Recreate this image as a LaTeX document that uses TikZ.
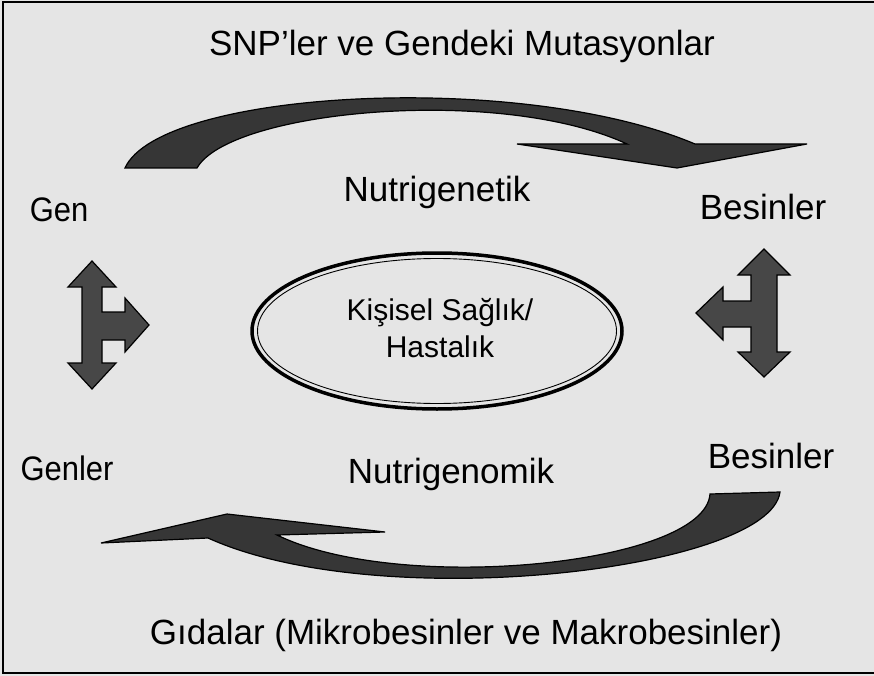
\documentclass[tikz,border=0pt]{standalone}
\usepackage{fontspec}
\setmainfont{Liberation Sans}
\newfontfamily\narrowsans[FakeStretch=0.91]{Liberation Sans}
\usetikzlibrary{shapes.geometric}
\begin{document}
\begin{tikzpicture}[x=1pt,y=-1pt,
  lbl/.style={font=\fontsize{35}{40}\selectfont, anchor=base, inner sep=0pt},
  narrowlbl/.style={font=\narrowsans\fontsize{34}{40}\selectfont, anchor=base, inner sep=0pt},
  curvearrow/.style={fill=black!79, draw=black, line width=1.2pt, line join=miter},
  blockarrow/.style={fill=black!72, draw=black, line width=1.2pt, line join=miter},
]
\useasboundingbox (0,0) rectangle (874,676);
\clip (0,0) rectangle (874,676);
\fill[black!10] (0,0) rectangle (874,676);
\draw[line width=2pt] (3,2) rectangle (890,673);

% texts
\node[lbl] (title) at (462,56) {SNP’ler ve Gendeki Mutasyonlar};
\node[narrowlbl] (gen) at (59,222) {Gen};
\node[lbl] (ngenetik) at (437,202) {Nutrigenetik};
\node[lbl] (besin1) at (763,219) {Besinler};
\node[narrowlbl] (genler) at (67,480) {Genler};
\node[lbl] (ngenomik) at (451,483) {Nutrigenomik};
\node[lbl] (besin2) at (771,468) {Besinler};
\node[lbl] (gida) at (466,644) {Gıdalar (Mikrobesinler ve Makrobesinler)};

% central ellipse
\node[ellipse, draw, line width=3.5pt, minimum width=370pt, minimum height=156pt,
      inner sep=0pt] (health) at (437,331) {};
\draw[line width=0.9pt] (health.center) ellipse [x radius=179.5pt, y radius=72.5pt];
\node[font=\fontsize{30}{37}\selectfont, align=center, inner sep=0pt]
  (htext) at (440,328) {Kişisel Sağlık/\\Hastalık};

% top curved arrow
\path[curvearrow]
  (125,168) -- (197,168)
  .. controls (230,110) and (500,85) .. (627,144)
  -- (517,144) -- (677,168) -- (807,144) -- (695,144)
  .. controls (520,70) and (160,90) .. (125,168) -- cycle;

% bottom curved arrow
\path[curvearrow]
  (710,494) -- (780,492)
  .. controls (770,570) and (380,616) .. (208,538)
  -- (101,543) -- (227,514) -- (385,532) -- (277,535)
  .. controls (400,595) and (705,565) .. (710,494) -- cycle;

% left T double arrow
\path[blockarrow]
  (92,261) -- (116,287) -- (102,287) -- (102,312) -- (125,312) -- (125,298)
  -- (149,325) -- (125,352) -- (125,340) -- (102,340) -- (102,363) -- (116,363)
  -- (92,389) -- (68,363) -- (82,363) -- (82,287) -- (68,287) -- cycle;

% right T double arrow
\path[blockarrow]
  (764,249) -- (790,275) -- (777,275) -- (777,352) -- (790,352) -- (764,377)
  -- (738,352) -- (751,352) -- (751,327) -- (723,327) -- (723,340) -- (696,313)
  -- (723,287) -- (723,301) -- (751,301) -- (751,275) -- (738,275) -- cycle;
\end{tikzpicture}
\end{document}
